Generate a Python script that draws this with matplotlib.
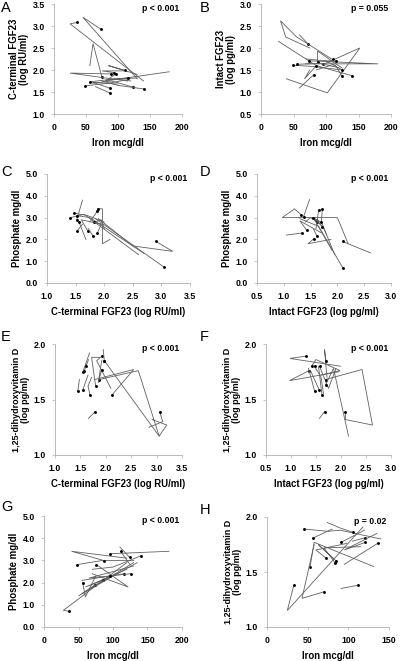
import matplotlib
matplotlib.use("Agg")
import matplotlib.pyplot as plt

plt.rcParams['font.family'] = ['Liberation Sans', 'DejaVu Sans']

# --- data: one trajectory per subject, the dot marks the first listed visit ---
A_x = [[36, 25, 140], [73, 45, 130], [75, 61, 56], [111, 85, 130], [89, 25, 115],
       [97, 80, 180], [94, 75, 110], [56, 95, 120], [49, 85, 115], [87, 60, 100],
       [87, 65], [124, 90, 60], [140, 100, 75], [115, 85, 130]]
A_y = [[3.08, 3.05, 1.75], [2.93, 3.2, 1.80], [1.83, 2.6, 2.1], [1.99, 2.1, 1.90], [1.91, 1.93, 1.75],
       [1.91, 1.75, 1.96], [1.94, 1.98, 1.98], [1.73, 1.80, 1.75], [1.64, 1.70, 1.78], [1.59, 1.72, 1.68],
       [1.48, 1.62], [1.61, 1.75, 1.70], [1.57, 1.65, 1.75], [1.82, 1.78, 1.82]]

B_x = [[140, 85, 27], [72, 59], [96, 152, 102, 39], [110, 54, 30, 38, 75], [74, 180, 68],
       [87, 87, 125], [49, 80, 125], [56, 90, 120], [84, 67, 75], [81, 59],
       [124, 115, 100], [125, 110, 85], [116, 90, 70]]
B_y = [[1.37, 1.60, 2.15], [2.10, 2.30], [1.63, 2.0, 0.98, 1.30], [1.74, 2.26, 2.62, 2.25, 2.0], [1.71, 1.64, 1.64],
       [1.69, 1.93, 1.54], [1.61, 1.58, 1.50], [1.63, 1.65, 1.55], [1.58, 1.30, 1.50], [1.39, 1.09],
       [1.37, 1.60, 1.70], [1.50, 1.62, 1.50], [1.70, 1.72, 1.75]]

C_x = [[3.05, 1.85], [2.9, 3.2, 2.5, 1.9], [1.41, 1.65, 2.6], [1.52, 1.62], [1.52, 1.75, 2.7],
       [1.56, 1.68], [1.53, 1.62], [1.71, 1.6, 1.95], [1.83, 1.95, 2.0], [1.89, 1.97, 1.97, 2.1],
       [1.88, 1.75], [1.81, 1.72], [1.88, 1.95, 1.8], [1.48, 1.7, 2.0]]
C_y = [[0.72, 2.95], [1.91, 1.45, 1.7, 2.95], [3.0, 3.15, 1.3], [2.9, 3.8], [3.09, 3.0, 1.35],
       [2.8, 2.0], [2.4, 2.7], [2.4, 2.9, 2.7], [2.79, 2.9, 2.5], [3.41, 3.4, 1.8, 2.0],
       [3.3, 2.8], [2.14, 2.5], [2.29, 2.7, 2.8], [3.2, 3.1, 2.8]]

D_x = [[2.1, 1.65, 1.3], [2.1, 2.25, 2.62], [1.32, 1.2, 0.97, 2.0, 2.2], [1.37, 1.48], [1.34, 1.05],
       [1.43, 1.3, 1.7], [1.56, 1.45, 1.88], [1.61, 1.75, 1.95], [1.62, 1.5, 1.4], [1.65, 1.6],
       [1.72, 1.7, 1.8], [1.69, 1.55], [1.72, 1.6], [1.62, 1.55], [1.55, 1.9]]
D_y = [[0.7, 2.6, 2.95], [1.91, 1.75, 1.38], [3.14, 3.4, 3.0, 3.0, 1.8], [3.05, 3.82], [2.29, 2.2],
       [2.41, 2.85, 2.3], [2.03, 1.8, 2.0], [2.9, 2.5, 1.3], [2.8, 3.0, 2.8], [3.35, 2.5],
       [3.4, 2.8, 2.2], [2.8, 3.0], [2.58, 2.9], [2.14, 2.5], [3.0, 1.5]]

E_x = [[1.45, 1.48], [1.55, 1.65], [1.55, 1.68], [1.58, 1.62], [1.61, 1.66],
       [1.69, 1.65, 1.72], [1.80, 1.72, 1.88], [1.87, 2.64, 3.05, 3.2, 2.91], [1.92, 1.82, 2.1],
       [1.92, 1.85, 1.92], [1.97, 3.05], [3.06, 3.12, 2.85], [1.79, 1.66], [2.12, 2.55, 1.78], [1.97, 1.95]]
E_y = [[1.58, 1.68], [1.59, 1.72], [1.75, 1.92], [1.76, 1.82], [1.80, 1.86],
       [1.54, 1.62, 1.70], [1.62, 1.88, 1.88], [1.68, 1.76, 1.17, 1.27, 1.32], [1.89, 1.85, 1.60],
       [1.77, 1.65, 1.85], [1.85, 1.17], [1.39, 1.30, 1.25], [1.39, 1.33], [1.54, 1.77, 1.68], [1.85, 1.95]]

F_x = [[1.29, 0.98, 1.99], [1.7, 1.67, 1.72], [1.41, 1.50, 1.98, 1.6], [1.36, 0.97, 1.96], [1.47, 1.6, 1.65],
       [1.57, 1.75, 1.9], [1.47, 1.35], [1.56, 1.40], [1.62, 1.55], [1.69, 2.42, 2.63, 2.08],
       [1.69, 1.85, 2.15], [1.67, 1.57], [2.08, 2.08]]
F_y = [[1.89, 1.87, 1.80], [1.85, 1.95, 1.70], [1.80, 1.86, 1.76, 1.72], [1.76, 1.67, 1.75], [1.80, 1.70, 1.55],
       [1.80, 1.60, 1.78], [1.58, 1.78], [1.59, 1.75], [1.54, 1.80], [1.68, 1.77, 1.27, 1.32],
       [1.63, 1.78, 1.17], [1.39, 1.33], [1.39, 1.32]]

G_x = [[36, 28, 120], [48, 85, 130], [56, 60, 75], [76, 122, 70], [87, 40, 120],
       [74, 50, 130], [86, 60, 120], [96, 181], [111, 125], [124, 110],
       [140, 100, 70], [116, 55], [126, 65, 130], [96, 55, 135]]
G_y = [[0.71, 0.75, 2.9], [2.81, 3.0, 3.0], [2.0, 1.35, 2.3], [2.81, 1.8, 2.4], [2.99, 3.41, 3.1],
       [1.9, 1.4, 2.9], [2.1, 1.8, 2.6], [3.3, 3.41], [3.41, 2.8], [3.14, 3.6],
       [3.2, 2.7, 2.6], [2.4, 2.1], [2.4, 2.2, 2.75], [2.3, 1.5, 2.9]]

H_x = [[46, 75, 90, 140], [57, 80], [53, 58, 131], [72, 60, 98], [84, 70, 115],
       [91, 120], [106, 90, 74], [120, 105], [121, 95, 135], [136, 95],
       [70, 43, 58], [112, 91], [33, 25, 118], [85, 63, 82]]
H_y = [[1.89, 1.87, 1.88, 1.80], [1.81, 1.89], [1.55, 1.77, 1.55], [1.63, 1.70, 1.76], [1.58, 1.72, 1.73],
       [1.77, 1.88], [1.86, 1.90, 1.95], [1.81, 1.78], [1.77, 1.70, 1.85], [1.76, 1.57],
       [1.32, 1.26, 1.75], [1.38, 1.35], [1.38, 1.15, 1.91], [1.60, 1.75, 1.62]]

iron_ticks = [0, 50, 100, 150, 200]
lbl_cfgf = "C-terminal FGF23 (log RU/ml)"
lbl_ifgf = "Intact FGF23 (log pg/ml)"
lbl_vitd = "1,25-dihydroxyvitamin D\n(log pg/ml)"

panels = [
    # letter, xs, ys, xticks, yticks, xlabel, ylabel, p, rect(px: left, right, top, bottom), letter top px
    ("A", A_x, A_y, iron_ticks, [1.0, 1.5, 2.0, 2.5, 3.0, 3.5], "Iron mcg/dl",
     "C-terminal FGF23\n(log RU/ml)", "p < 0.001", (54, 182, 4, 114), 1),
    ("B", B_x, B_y, iron_ticks, [0.5, 1.0, 1.5, 2.0, 2.5, 3.0], "Iron mcg/dl",
     "Intact FGF23\n(log pg/ml)", "p = 0.055", (261, 391, 4, 114), 1),
    ("C", C_x, C_y, [1.0, 1.5, 2.0, 2.5, 3.0, 3.5], [0, 1, 2, 3, 4, 5], lbl_cfgf,
     "Phosphate mg/dl", "p < 0.001", (47, 190, 174, 283), 165),
    ("D", D_x, D_y, [0.5, 1.0, 1.5, 2.0, 2.5, 3.0], [0, 1, 2, 3, 4, 5], lbl_ifgf,
     "Phosphate mg/dl", "p < 0.001", (257, 391, 174, 283), 165),
    ("E", E_x, E_y, [1.0, 1.5, 2.0, 2.5, 3.0, 3.5], [1.0, 1.5, 2.0], lbl_cfgf,
     lbl_vitd, "p < 0.001", (55, 182, 344, 455), 330),
    ("F", F_x, F_y, [0.5, 1.0, 1.5, 2.0, 2.5, 3.0], [1.0, 1.5, 2.0], lbl_ifgf,
     lbl_vitd, "p < 0.001", (266, 391, 344, 455), 330),
    ("G", G_x, G_y, iron_ticks, [0, 1, 2, 3, 4, 5], "Iron mcg/dl",
     "Phosphate mg/dl", "p < 0.001", (44, 182, 516, 627), 500),
    ("H", H_x, H_y, [0, 50, 100, 150], [1.0, 1.5, 2.0], "Iron mcg/dl",
     lbl_vitd, "p = 0.02", (267, 389, 517, 627), 503),
]

W, H = 400, 661
fig = plt.figure(figsize=(W / 100, H / 100), dpi=100)

for letter, xs, ys, xt, yt, xl, yl, p, (l, r, t, b), lt in panels:
    ax = fig.add_axes([l / W, 1 - b / H, (r - l) / W, (b - t) / H])
    for tx, ty in zip(xs, ys):
        ax.plot(tx, ty, color='#606060', lw=0.6, solid_joinstyle='miter')
        ax.plot(tx[0], ty[0], 'o', color='black', ms=2.1, mew=0)
    ax.set_xlim(xt[0], xt[-1])
    ax.set_ylim(yt[0], yt[-1])
    ax.set_xticks(xt)
    ax.set_yticks(yt)
    if isinstance(xt[1], float):
        ax.set_xticklabels([f"{v:.1f}" for v in xt])
    ax.set_yticklabels([f"{v:.1f}" for v in yt])
    for s in ['top', 'right']:
        ax.spines[s].set_visible(False)
    for s in ['left', 'bottom']:
        ax.spines[s].set_color('#b0b0b0')
        ax.spines[s].set_linewidth(0.6)
    ax.tick_params(length=2.5, width=0.5, color='#b0b0b0', labelsize=6.3)
    ax.tick_params(axis='x', pad=4)
    ax.tick_params(axis='y', pad=4)
    for lab in ax.get_xticklabels() + ax.get_yticklabels():
        lab.set_fontweight('bold')
    ax.set_xlabel(xl, fontsize=6.9, fontweight='bold', labelpad=4)
    ysize = 6.5 if yl == lbl_vitd else 6.9
    ax.set_ylabel(yl, fontsize=ysize, fontweight='bold', labelpad=3, linespacing=1.0)
    ax.text(0.98, 1.0, p, transform=ax.transAxes, ha='right', va='top',
            fontsize=6.3, fontweight='bold')
    fx = 1 / W if letter in "ACEG" else 200 / W
    fig.text(fx, 1 - lt / H, letter, fontsize=10.5, ha='left', va='top')

fig.savefig("out.png", dpi=100)
